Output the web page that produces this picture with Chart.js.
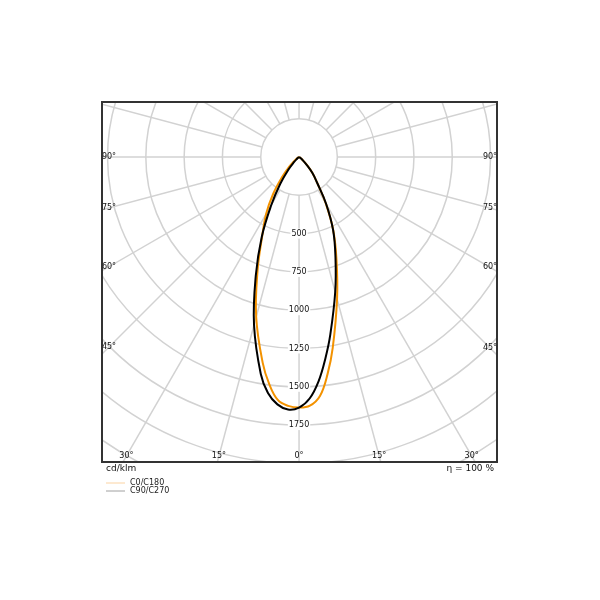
<!DOCTYPE html>
<html>
<head>
<meta charset="utf-8">
<script src="https://cdn.jsdelivr.net/npm/chart.js@4.4.1/dist/chart.umd.min.js"></script>
<style>
    body { margin: 0; background: #fff; }
    #wrap { width: 600px; height: 600px; }
</style>
</head>
<body>
<div id="wrap"><canvas id="ldc" width="600" height="600"></canvas></div>
<script>
// gamma angles (deg from nadir) and intensities in cd/klm
const gammaDeg = [0, 2.5, 5, 7.5, 10, 15, 20, 25, 30, 35, 40, 45, 50, 55, 60, 65, 70, 75, 80, 85, 90];
const c0 = [1636, 1625, 1566, 1428, 1266, 959, 715, 529, 347, 207, 136, 70, 30, 12, 4, 1, 0, 0, 0, 0, 0];
const c180 = [1636, 1626, 1592, 1494, 1365, 1081, 792, 569, 430, 295, 175, 92, 40, 15, 5, 0, 0, 0, 0, 0, 0];
const c90 = [1636, 1578, 1468, 1323, 1176, 912, 695, 526, 354, 207, 136, 65, 28, 10, 3, 0, 0, 0, 0, 0, 0];
const c270 = [1636, 1650, 1621, 1554, 1438, 1135, 826, 576, 362, 215, 110, 45, 15, 5, 0, 0, 0, 0, 0, 0, 0];

const ringValues = [250, 500, 750, 1000, 1250, 1500, 1750, 2000, 2250, 2500, 2750];
const ringLabels = [500, 750, 1000, 1250, 1500, 1750];
const spokeStep = 15;
const angleLabels = [0, 15, 30, 45, 60, 75, 90];

const FONT = "'DejaVu Sans', sans-serif";

function toPoints(left, right) {
    const pts = [];
    for (let i = gammaDeg.length - 1; i >= 0; i--) {
        const g = gammaDeg[i] * Math.PI / 180;
        pts.push({ x: -Math.sin(g) * left[i], y: -Math.cos(g) * left[i] });
    }
    for (let i = 1; i < gammaDeg.length; i++) {
        const g = gammaDeg[i] * Math.PI / 180;
        pts.push({ x: Math.sin(g) * right[i], y: -Math.cos(g) * right[i] });
    }
    return pts;
}

const polarGrid = {
    id: 'polarGrid',
    beforeDatasetsDraw(chart) {
        const { ctx, chartArea, scales } = chart;
        const cx = scales.x.getPixelForValue(0);
        const cy = scales.y.getPixelForValue(0);
        const rad = v => scales.x.getPixelForValue(v) - cx;

        ctx.save();
        ctx.beginPath();
        ctx.rect(chartArea.left, chartArea.top, chartArea.right - chartArea.left, chartArea.bottom - chartArea.top);
        ctx.clip();

        ctx.strokeStyle = '#d2d2d2';
        ctx.lineWidth = 1.5;
        ringValues.forEach(v => {
            ctx.beginPath();
            ctx.arc(cx, cy, rad(v), 0, Math.PI * 2);
            ctx.stroke();
        });
        for (let a = 0; a < 360; a += spokeStep) {
            const t = a * Math.PI / 180;
            const r0 = rad(ringValues[0]);
            const r1 = rad(4000);
            ctx.beginPath();
            ctx.moveTo(cx + Math.sin(t) * r0, cy + Math.cos(t) * r0);
            ctx.lineTo(cx + Math.sin(t) * r1, cy + Math.cos(t) * r1);
            ctx.stroke();
        }

        // ring value labels down the 0° spoke
        ctx.font = '8px ' + FONT;
        ctx.textAlign = 'center';
        ctx.textBaseline = 'middle';
        ringLabels.forEach(v => {
            const py = scales.y.getPixelForValue(-v);
            const w = ctx.measureText(String(v)).width;
            ctx.fillStyle = '#fff';
            ctx.fillRect(cx - w / 2 - 1, py - 5, w + 2, 10);
            ctx.fillStyle = '#111';
            ctx.fillText(String(v), cx, py);
        });

        // angle labels where the spokes meet the frame
        const xl = chartArea.left + 7, xr = chartArea.right - 7, yb = chartArea.bottom - 6;
        angleLabels.forEach(g => {
            const t = g * Math.PI / 180;
            [-1, 1].forEach(side => {
                if (g === 0 && side === 1) return;
                const dx = Math.sin(t), dy = Math.cos(t);
                const edgeX = side < 0 ? cx - xl : xr - cx;
                let k = Infinity;
                if (dx > 1e-6) k = Math.min(k, edgeX / dx);
                if (dy > 1e-6) k = Math.min(k, (yb - cy) / dy);
                const px = cx + side * dx * k;
                const py = cy + dy * k;
                ctx.fillStyle = '#111';
                ctx.fillText(g + '°', px, py);
            });
        });
        ctx.restore();
    },
    afterDraw(chart) {
        const { ctx, chartArea } = chart;
        ctx.save();
        ctx.strokeStyle = '#333';
        ctx.lineWidth = 2;
        ctx.strokeRect(chartArea.left, chartArea.top, chartArea.right - chartArea.left, chartArea.bottom - chartArea.top);

        ctx.fillStyle = '#111';
        ctx.textBaseline = 'middle';
        ctx.font = '9px ' + FONT;
        ctx.textAlign = 'left';
        ctx.fillText('cd/klm', chartArea.left + 4, chartArea.bottom + 7);
        ctx.textAlign = 'right';
        ctx.fillText('η = 100 %', chartArea.right - 3, chartArea.bottom + 7);

        const legend = [
            { text: 'C0/C180', color: '#fbd3a2' },
            { text: 'C90/C270', color: '#a0a0a0' }
        ];
        ctx.font = '8px ' + FONT;
        ctx.textAlign = 'left';
        legend.forEach((item, i) => {
            const ly = chartArea.bottom + 21 + i * 8;
            ctx.strokeStyle = item.color;
            ctx.lineWidth = 1;
            ctx.beginPath();
            ctx.moveTo(chartArea.left + 4, ly);
            ctx.lineTo(chartArea.left + 23, ly);
            ctx.stroke();
            ctx.fillStyle = '#222';
            ctx.fillText(item.text, chartArea.left + 28, ly);
        });
        ctx.restore();
    }
};

function createPolarChart(ctx) {
    return new Chart(ctx, {
        type: 'scatter',
        data: {
            datasets: [{
                label: 'C0/C180',
                data: toPoints(c180, c0),
                borderColor: '#f39200',
                borderWidth: 2,
                showLine: true,
                pointRadius: 0,
                tension: 0.4,
                order: 1
            }, {
                label: 'C90/C270',
                data: toPoints(c270, c90),
                borderColor: '#000000',
                borderWidth: 2,
                showLine: true,
                pointRadius: 0,
                tension: 0.4,
                order: 0
            }]
        },
        options: {
            responsive: false,
            animation: false,
            layout: { padding: { left: 102, top: 102, right: 103, bottom: 138 } },
            scales: {
                x: { type: 'linear', min: -1286, max: 1292, display: false },
                y: { type: 'linear', min: -1991, max: 359, display: false }
            },
            plugins: {
                legend: { display: false },
                tooltip: { enabled: false }
            }
        },
        plugins: [polarGrid]
    });
}

document.addEventListener('DOMContentLoaded', function () {
    Chart.defaults.font.family = FONT;
    createPolarChart(document.getElementById('ldc').getContext('2d'));
});
</script>
</body>
</html>
